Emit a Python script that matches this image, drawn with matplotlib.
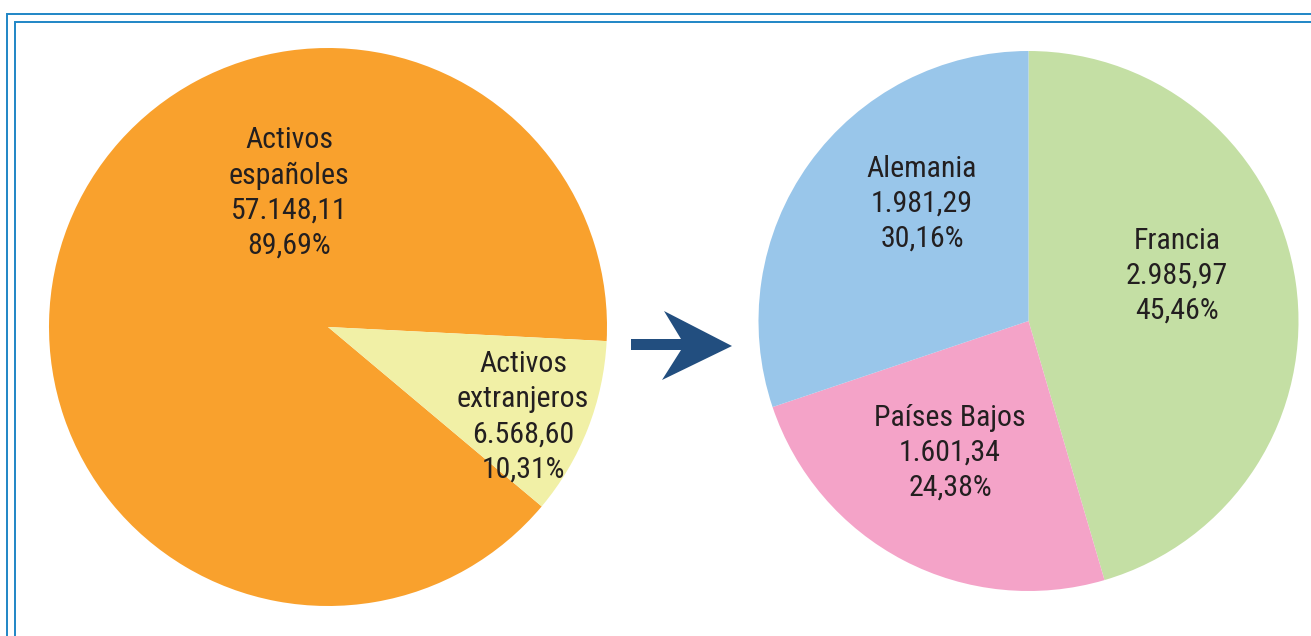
import matplotlib
matplotlib.use("Agg")
import matplotlib.pyplot as plt
from matplotlib import font_manager
from matplotlib.patches import Polygon, Rectangle

# Data
left_labels = ["Activos\nespañoles", "Activos\nextranjeros"]
left_values = [57148.11, 6568.60]
left_colors = ["#F9A12D", "#F1F0A6"]

right_labels = ["Francia", "Países Bajos", "Alemania"]
right_values = [2985.97, 1601.34, 1981.29]
right_colors = ["#C4DFA4", "#F4A3C8", "#99C6EA"]

def es_num(v):
    s = f"{v:,.2f}"
    return s.replace(",", "X").replace(".", ",").replace("X", ".")

def es_pct(p):
    return f"{p:.2f}".replace(".", ",") + "%"

avail = {f.name for f in font_manager.fontManager.ttflist}
narrow = [n for n in ["Liberation Sans Narrow", "Roboto Condensed", "Open Sans Condensed"] if n in avail]
if narrow:
    plt.rcParams["font.family"] = [narrow[0], "DejaVu Sans"]
    stretch = "normal"
else:
    plt.rcParams["font.family"] = ["DejaVu Sans"]
    stretch = "condensed"

W, H = 1311, 636
fig = plt.figure(figsize=(W / 100, H / 100), dpi=100)
ax = fig.add_axes([0, 0, 1, 1])

# frame lines
ax.add_patch(Rectangle((7, -20), W + 20, H - 14 + 20, fill=False, ec="#1F86C6", lw=1.4))
ax.add_patch(Rectangle((15, -20), W + 20, H - 22 + 20, fill=False, ec="#1F86C6", lw=1.4))

# left pie
lc = (328, H - 327)
lr = 279
total_l = sum(left_values)
ax.pie(left_values, colors=left_colors, startangle=-2.9, counterclock=True,
       center=lc, radius=lr, frame=True, wedgeprops=dict(linewidth=0))

# right pie
rc = (1028.5, H - 321)
rr = 270
total_r = sum(right_values)
ax.pie(right_values, colors=right_colors, startangle=90, counterclock=False,
       center=rc, radius=rr, frame=True, wedgeprops=dict(linewidth=0))

ax.set_xlim(0, W)
ax.set_ylim(0, H)
ax.set_aspect("equal")
ax.axis("off")

fs = 21.5
tc = "#231F20"
ls = 1.32
# label block centers (pixels, from top)
left_pos = [(289, 193), (523, 417)]
right_pos = [(1177, 276), (950, 453), (922, 204)]

for lab, v, (x, y) in zip(left_labels, left_values, left_pos):
    txt = f"{lab}\n{es_num(v)}\n{es_pct(100 * v / total_l)}"
    ax.text(x, H - y, txt, ha="center", va="center", fontsize=fs, color=tc,
            linespacing=ls, multialignment="center", fontstretch=stretch)

for lab, v, (x, y) in zip(right_labels, right_values, right_pos):
    txt = f"{lab}\n{es_num(v)}\n{es_pct(100 * v / total_r)}"
    ax.text(x, H - y, txt, ha="center", va="center", fontsize=fs, color=tc,
            linespacing=ls, multialignment="center", fontstretch=stretch)

# arrow
pts = [(631, 339), (681, 339), (664, 311), (732, 346), (662, 380), (681, 350), (631, 350)]
ax.add_patch(Polygon([(x, H - y) for x, y in pts], closed=True, fc="#224E7F", ec="none"))

fig.savefig("out.png", dpi=100, facecolor="white")
